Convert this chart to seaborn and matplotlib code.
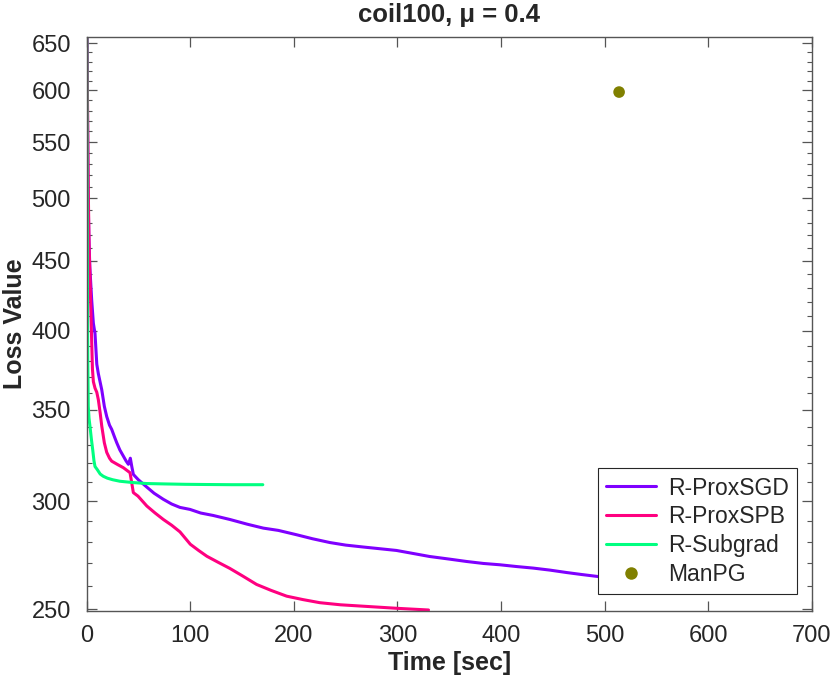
import numpy as np
import pandas as pd
import matplotlib
matplotlib.use("Agg")
import matplotlib.pyplot as plt
import matplotlib.ticker as mticker
from matplotlib.lines import Line2D
import seaborn as sns

# ---------------- data ----------------
sgd_t = [0, 0.6, 1.2, 2.0, 3.0, 4.8, 6.4, 8.0, 9.7, 11.2, 14.5, 17, 19.3, 22, 24.1, 27, 29, 32,
         35.3, 38, 40.2, 42.1, 43.5, 45, 49.8, 57.9, 65, 73.9, 82, 90, 99.7, 110, 122, 138.3,
         155, 170.5, 185, 202.7, 218, 234.8, 250, 267, 283, 299, 315, 331, 350, 366.8, 383,
         398.9, 415, 431, 447, 463.3, 478, 493.8, 510, 525]
sgd_y = [700, 600, 510, 470, 445, 421, 405, 398, 378, 372, 362, 352, 346, 341, 338.6, 334, 331, 327,
         323.7, 321, 319.2, 322.5, 318, 313.8, 311, 307.2, 304, 300.9, 298.5, 296.8, 295.8, 294, 292.8, 290.8,
         288.5, 286.6, 285.5, 283.4, 281.5, 279.7, 278.5, 277.6, 276.8, 276, 274.6, 273.2, 272, 270.9, 270,
         269.4, 268.6, 267.9, 267, 265.9, 265, 264.1, 263.4, 262.8]

spb_t = [0, 0.5, 1.0, 1.6, 2.3, 3.2, 4.5, 5.5, 6.4, 8, 9.7, 11.2, 13, 14.5, 17, 19.3, 22, 24.1, 30,
         35.3, 41.8, 43.4, 45, 49.5, 58, 66, 74, 82, 90, 100, 108, 116, 127, 138, 150, 164, 178,
         193, 209, 225, 245, 267, 300, 330]
spb_y = [700, 620, 560, 500, 460, 436, 400, 375, 367, 363, 360.5, 356, 348, 340.5, 331, 325.7, 322.5, 320.9, 319,
         317.4, 314.7, 309.5, 304.3, 302.5, 297.5, 294, 290.8, 288, 284.8, 278.9, 276, 273.3, 270.5, 267.8, 264.5, 260.6, 258,
         255.5, 254, 252.7, 251.8, 251.2, 250.3, 249.6]

sub_t = [0, 0.2, 0.4, 0.7, 1.0, 1.5, 2.2, 3.2, 4.5, 5.8, 7, 8, 10, 13, 16, 20, 25, 32, 45, 58, 75,
         95, 115, 140, 170]
sub_y = [700, 600, 500, 420, 380, 352, 345, 340, 333, 327, 321, 318, 316.5, 314, 312.8, 311.8, 311, 310.2,
         309.5, 309, 308.8, 308.6, 308.5, 308.4, 308.4]

manpg_t = [514]
manpg_y = [598.4]

series_names = ["R-ProxSGD", "R-ProxSPB", "R-Subgrad"]
point_name = "ManPG"
colors = {"R-ProxSGD": "#7f00ff", "R-ProxSPB": "#ff0080", "R-Subgrad": "#00ff80", "ManPG": "#808000"}

x_ticks = [0, 100, 200, 300, 400, 500, 600, 700]
y_ticks = [250, 300, 350, 400, 450, 500, 550, 600, 650]

df = pd.concat([
    pd.DataFrame({"t": sgd_t, "loss": sgd_y, "method": "R-ProxSGD"}),
    pd.DataFrame({"t": spb_t, "loss": spb_y, "method": "R-ProxSPB"}),
    pd.DataFrame({"t": sub_t, "loss": sub_y, "method": "R-Subgrad"}),
], ignore_index=True)
df_pt = pd.DataFrame({"t": manpg_t, "loss": manpg_y, "method": point_name})

# ---------------- style ----------------
sns.set_theme(style="ticks")
plt.rcParams["font.family"] = ["Liberation Sans", "DejaVu Sans"]
plt.rcParams["text.color"] = "#262626"
plt.rcParams["axes.labelcolor"] = "#262626"

fig = plt.figure(figsize=(8.3, 6.8), dpi=100)
ax = fig.add_axes([0.1045, 0.1019, 0.978 - 0.1045, 0.946 - 0.1019])

sns.lineplot(data=df, x="t", y="loss", hue="method", hue_order=series_names,
             palette=colors, estimator=None, sort=False, linewidth=2.2, ax=ax, legend=False)
sns.scatterplot(data=df_pt, x="t", y="loss", color=colors["ManPG"], s=70,
                edgecolor="none", ax=ax, legend=False, zorder=5)

ax.set_yscale("log")
ax.set_xlim(0, 700)
ax.set_ylim(249.3, 657)

ax.xaxis.set_major_locator(mticker.FixedLocator(x_ticks))
ax.xaxis.set_major_formatter(mticker.FixedFormatter([str(v) for v in x_ticks]))
ax.xaxis.set_minor_locator(mticker.NullLocator())
ax.yaxis.set_major_locator(mticker.FixedLocator(y_ticks))
ax.yaxis.set_major_formatter(mticker.FixedFormatter([str(v) for v in y_ticks]))
minor = [v for v in range(250, 660, 10) if v not in y_ticks]
ax.yaxis.set_minor_locator(mticker.FixedLocator(minor))
ax.yaxis.set_minor_formatter(mticker.NullFormatter())

ax.tick_params(axis="both", which="major", direction="in", length=7, width=0.9,
               color="#555555", labelsize=17, labelcolor="#262626",
               top=True, right=True)
ax.tick_params(axis="y", which="major", pad=11.5)
ax.tick_params(axis="x", which="major", pad=10)
ax.tick_params(axis="both", which="minor", direction="in", length=3.5, width=0.8,
               color="#555555", top=True, right=True)
for sp in ax.spines.values():
    sp.set_visible(True)
    sp.set_color("#555555")
    sp.set_linewidth(1.0)

ax.set_xlabel("Time [sec]", fontsize=18, fontweight="bold", labelpad=3)
ax.set_ylabel("Loss Value", fontsize=18, fontweight="bold", labelpad=3)
ax.set_title("coil100, μ = 0.4", fontsize=18.5, fontweight="bold", pad=10.5)

handles = [Line2D([0], [0], color=colors[n], lw=2.2) for n in series_names]
handles.append(Line2D([0], [0], marker="o", color="none", markerfacecolor=colors["ManPG"],
                      markeredgecolor="none", markersize=9))
leg = ax.legend(handles, series_names + [point_name], loc="lower right",
                bbox_to_anchor=(1 - 15 / 725, 17 / 574), borderaxespad=0,
                fontsize=16.5, handlelength=2.2, labelspacing=0.25, handletextpad=0.5,
                borderpad=0.35, fancybox=False, framealpha=1)
leg.get_frame().set_edgecolor("#262626")
leg.get_frame().set_linewidth(0.8)

fig.savefig("out.png", dpi=100, facecolor="white")
